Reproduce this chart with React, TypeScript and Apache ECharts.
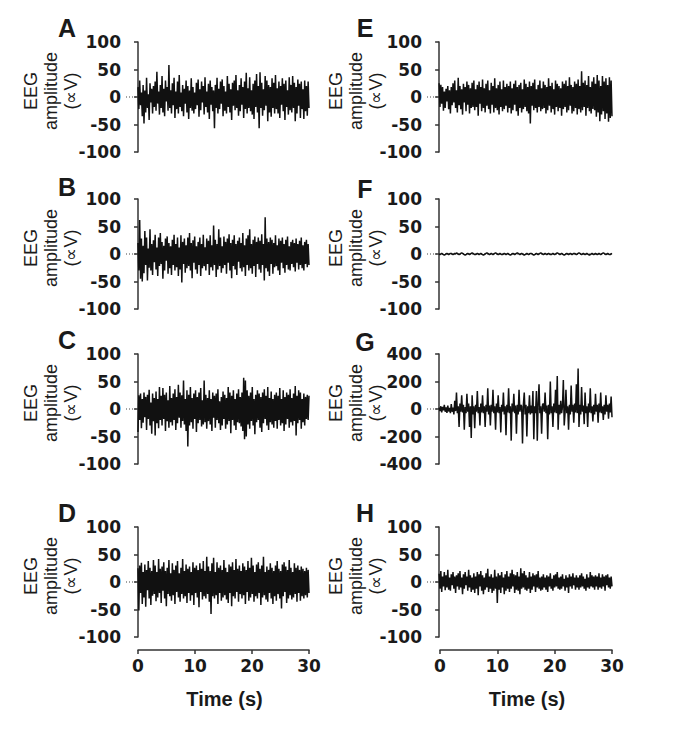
import React, { useEffect, useRef } from "react";
import * as echarts from "echarts";

const panelLetters = ["A", "B", "C", "D", "E", "F", "G", "H"];
const xTickValues = [0, 10, 20, 30];
const durationSec = 30;
const yLabelText = "EEG\namplitude\n(∝V)";
const xTitle = "Time (s)";

const traceA = [
  18,-22,30,-15,8,-35,22,-48,12,-28,35,-20,5,-42,25,-10,15,-30,20,-18,
  28,-25,46,-12,10,-32,22,-20,38,-28,15,-35,30,-8,18,-25,58,-20,12,-30,
  25,-15,35,-38,10,-22,28,-30,40,-18,8,-26,22,-35,15,-12,30,-28,20,-40,
  12,-20,34,-25,18,-30,8,-22,26,-15,32,-36,14,-24,28,-10,20,-32,36,-18,
  10,-28,24,-40,30,-14,18,-26,12,-57,22,-20,35,-30,15,-22,28,-12,32,-35,
  20,-25,10,-30,38,-18,24,-28,14,-42,26,-16,30,-24,40,-20,12,-34,22,-26,
  34,-14,18,-38,28,-22,44,-30,16,-20,36,-26,12,-32,24,-40,30,-18,42,-28,
  20,-57,45,-20,26,-34,14,-24,38,-16,30,-44,22,-28,18,-36,34,-20,26,-30,
  40,-22,16,-30,28,-38,20,-14,34,-26,24,-42,30,-18,12,-32,36,-24,22,-28,
  38,-20,26,-44,18,-30,32,-16,24,-38,28,-22,14,-40,30,-26,20,-34,28,-20
];

const traceB = [
  20,-30,62,-45,28,-50,15,-35,42,-20,30,-48,10,-25,45,-30,18,-38,25,-15,
  35,-28,12,-40,30,-22,38,-18,22,-45,15,-30,28,-12,32,-36,20,-26,14,-38,
  26,-20,35,-30,18,-24,30,-40,12,-28,34,-52,22,-18,28,-34,16,-26,30,-22,
  38,-30,20,-44,25,-16,32,-28,14,-36,22,-20,30,-40,18,-26,35,-22,12,-30,
  28,-18,24,-38,34,-24,16,-30,52,-20,26,-42,18,-28,45,-22,30,-34,14,-26,
  32,-20,22,-36,28,-16,36,-30,20,-44,26,-22,34,-28,18,-38,24,-14,30,-26,
  20,-32,38,-24,16,-40,28,-20,34,-30,45,-26,18,-36,26,-22,32,-42,22,-18,
  30,-28,24,-34,36,-20,18,-48,67,-26,28,-32,22,-40,30,-18,26,-36,20,-24,
  34,-22,16,-30,28,-38,24,-16,30,-26,18,-34,26,-20,32,-28,14,-30,22,-18,
  26,-24,20,-32,28,-16,18,-28,24,-20,30,-26,16,-30,22,-18,26,-24,18,-20
];

const traceC = [
  -42,25,-20,28,-35,18,-25,30,-15,22,-38,26,-18,35,-30,12,-45,28,-22,20,
  -48,32,-26,18,-35,40,-20,24,-30,38,-18,26,-40,30,-22,16,-34,42,-24,20,
  -30,28,-20,36,-38,22,-26,44,-16,30,-34,25,-22,52,-28,18,-40,34,-68,26,
  -30,40,-24,20,-36,28,-18,34,-42,22,-26,30,-20,38,-32,16,-28,52,-24,26,
  -36,20,-22,34,-28,18,-40,30,-16,24,-34,28,-20,36,-26,14,-38,22,-30,32,
  -18,26,-36,20,-28,40,-22,30,-44,24,-20,34,-30,18,-38,28,-24,36,-26,22,
  -32,30,-40,57,-55,52,-50,34,-28,24,-36,30,-22,40,-30,18,-46,26,-24,34,
  -20,28,-34,22,-42,30,-26,36,-18,24,-30,40,-38,20,-24,32,-28,18,-34,26,
  -22,30,-36,24,-20,38,-30,18,-26,34,-40,22,-28,30,-18,26,-34,36,-24,20,
  -30,28,-22,42,-48,24,-26,34,-20,30,-36,18,-24,28,-30,22,-18,26,-20,24
];

const traceD = [
  25,-52,30,-20,35,-40,18,-28,32,-45,22,-15,38,-30,26,-42,20,-25,40,-22,
  30,-35,18,-28,42,-20,24,-38,28,-16,36,-30,20,-44,26,-22,40,-26,16,-34,
  34,-24,22,-40,30,-18,38,-28,16,-36,26,-22,42,-30,20,-26,32,-38,24,-20,
  28,-34,18,-24,36,-42,26,-20,30,-28,22,-46,34,-18,24,-32,38,-26,20,-30,
  46,-22,28,-36,20,-58,34,-26,44,-30,18,-24,36,-40,26,-20,30,-34,22,-28,
  40,-24,26,-32,18,-38,32,-20,28,-44,36,-26,22,-30,42,-18,24,-36,30,-22,
  20,-30,34,-24,28,-40,22,-18,38,-34,26,-28,44,-22,30,-36,18,-26,32,-30,
  36,-20,24,-42,30,-28,46,-24,18,-32,28,-36,22,-20,34,-30,26,-40,20,-26,
  30,-34,38,-22,24,-30,20,-48,32,-26,36,-18,28,-38,22,-30,40,-24,26,-32,
  18,-28,34,-22,26,-36,30,-20,22,-34,28,-26,24,-30,20,-24,26,-28,22,-20
];

const traceE = [
  25,-18,22,-12,18,-25,10,-20,15,-8,20,-22,12,-30,18,-15,25,-10,30,-20,
  12,-28,35,-15,20,-22,14,-32,24,-10,18,-26,28,-14,22,-30,16,-20,26,-18,
  30,-24,14,-18,22,-34,28,-12,18,-26,32,-20,16,-28,24,-16,30,-22,12,-30,
  26,-14,20,-28,34,-20,16,-24,22,-32,28,-18,14,-26,30,-22,18,-16,24,-28,
  20,-20,28,-30,16,-24,24,-14,30,-26,18,-34,22,-20,26,-28,14,-22,32,-18,
  24,-26,18,-30,28,-48,20,-16,26,-24,32,-20,14,-28,22,-18,30,-26,16,-22,
  28,-20,22,-30,18,-24,34,-16,20,-28,26,-22,14,-32,30,-18,24,-26,20,-20,
  16,-34,28,-22,24,-18,30,-28,20,-24,36,-16,22,-30,18,-26,28,-20,24,-32,
  32,-22,20,-28,47,-24,26,-18,30,-34,22,-20,38,-26,18,-30,28,-22,36,-24,
  24,-36,40,-28,30,-44,20,-32,38,-26,28,-40,34,-30,22,-45,36,-38,30,-35
];

const traceF = [
  0,-1,0,1,0,-1,-2,-1,0,1,0,-1,0,1,1,0,-1,0,1,0,
  2,1,0,-1,0,1,2,1,0,-1,-2,-1,0,1,0,-1,0,1,2,1,
  0,-1,-1,0,1,0,-1,0,1,0,-1,-2,-1,0,1,2,1,0,-1,0,
  1,0,-1,0,1,2,1,0,-1,0,1,0,-1,-1,0,1,0,-1,0,1,
  0,-1,-2,-1,0,1,0,-1,0,1,2,1,0,-1,0,1,0,-1,-2,-1,
  0,1,0,-1,0,1,1,0,-1,-2,-1,0,1,0,-1,0,1,2,1,0,
  -1,0,1,0,-1,0,1,0,-1,-1,0,1,0,-1,0,1,2,1,0,-1,
  0,1,0,-1,-2,-1,0,1,0,-1,0,1,0,-1,0,1,1,0,-1,0,
  1,2,1,0,-1,0,1,0,-1,0,1,0,-1,-2,-1,0,1,0,-1,0,
  1,0,-1,0,1,0,-1,0,1,2,1,0,-1,0,1,0,-1,-1,0,1
];

const traceG = [
  10,-15,20,-25,15,-10,30,-20,12,-28,25,-18,8,-30,35,-20,10,-40,60,-15,
  120,-30,20,-130,40,-20,100,-25,30,-150,15,-30,110,-20,40,-130,20,-210,100,-40,
  20,-140,30,-20,130,-30,15,-120,40,-25,100,-30,20,-130,30,-20,150,-40,25,-120,
  30,-20,140,-30,20,-150,40,-25,100,-30,15,-170,30,-20,120,-40,20,-190,30,-25,
  150,-30,20,-230,40,-20,110,-30,25,-180,30,-40,140,-20,30,20,-250,30,120,-40,
  30,-200,20,-30,100,-40,25,-30,130,-220,20,-30,130,-230,40,180,-30,20,-180,30,
  40,-20,120,-30,25,-220,30,-40,200,-30,20,-130,40,-25,140,-30,240,-150,30,-40,
  60,-30,20,210,-120,-25,140,-30,20,-150,30,-40,170,-20,30,-100,40,-25,180,-30,
  295,-130,30,-40,160,-20,25,-110,120,-30,20,-130,40,-25,150,-30,20,-90,30,-40,
  110,-20,30,-100,40,-25,120,-30,20,-80,30,-40,100,-20,30,-70,40,-25,90,-60
];

const traceH = [
  15,-12,20,-18,10,-8,18,-15,12,-10,22,-14,8,-16,14,-6,18,-12,10,-20,
  12,-8,16,-14,20,-10,8,-22,14,-12,18,-6,10,-16,22,-10,12,-18,8,-14,
  16,-20,10,-12,18,-24,14,-8,20,-16,12,-22,8,-14,16,-10,24,-18,10,-12,
  14,-20,8,-16,22,-12,10,-38,16,-14,12,-20,18,-10,8,-22,14,-16,20,-12,
  10,-18,16,-12,22,-8,14,-20,12,-14,18,-16,10,-22,25,-12,16,-10,20,-14,
  12,-16,8,-12,18,-20,10,-14,16,-8,12,-18,14,-10,20,-12,8,-16,10,-14,
  14,-10,8,-14,12,-18,10,-8,16,-12,6,-16,12,-10,14,-8,18,-12,8,-14,
  10,-12,14,-8,6,-16,12,-10,8,-20,14,-8,10,-12,16,-6,8,-14,12,-10,
  8,-14,12,-10,16,-8,10,-12,6,-16,14,-10,8,-12,18,-8,12,-10,10,-14,
  12,-8,10,-14,16,-10,8,-12,14,-8,10,-16,12,-6,14,-10,8,-12,10,-8
];

const traces = [traceA, traceB, traceC, traceD, traceE, traceF, traceG, traceH];
const yLimits = [100, 100, 100, 100, 100, 100, 400, 100];

// layout (pixels)
const colAxisX = [126, 427];
const colRight = [309, 612];
const colZeroX = [138, 440];
const rowTops = [42, 199, 354, 527];
const panelH = 110;
const letterPos = [
  [67, 28], [67, 187], [67, 340], [67, 513],
  [365, 28], [365, 189], [365, 342], [365, 513]
];
const yLabelX = [51, 356];
const xMinPad = -2.1;

const tickFont = "DejaVu Sans";
const textFont = "Liberation Sans";
const ink = "#111111";
const axisColor = "#333333";

function toXY(values: number[]) {
  const n = values.length;
  return values.map((v, i) => [(i * durationSec) / (n - 1), v]);
}

export default function App() {
  const ref = useRef<HTMLDivElement>(null);
  useEffect(() => {
    const chart = echarts.init(ref.current!, null, { renderer: "svg" });
    const grid: any[] = [];
    const xAxis: any[] = [];
    const yAxis: any[] = [];
    const series: any[] = [];
    const graphic: any[] = [];

    traces.forEach((tr, p) => {
      const col = Math.floor(p / 4);
      const row = p % 4;
      const top = rowTops[row];
      grid.push({
        left: colAxisX[col],
        top,
        width: colRight[col] - colAxisX[col],
        height: panelH,
        containLabel: false
      });
      xAxis.push({
        type: "value",
        gridIndex: p,
        min: xMinPad,
        max: durationSec,
        show: false
      });
      const lim = yLimits[p];
      yAxis.push({
        type: "value",
        gridIndex: p,
        min: -lim,
        max: lim,
        interval: lim / 2,
        splitLine: { show: false },
        axisLine: { show: true, lineStyle: { color: axisColor, width: 1.5 } },
        axisTick: { show: true, length: 4, lineStyle: { color: axisColor, width: 1.5 } },
        axisLabel: {
          margin: 5,
          fontFamily: tickFont,
          fontWeight: "bold",
          fontSize: 17,
          color: "#1a1a1a"
        }
      });
      series.push({
        type: "line",
        xAxisIndex: p,
        yAxisIndex: p,
        data: [[xMinPad, 0], [durationSec, 0]],
        symbol: "none",
        silent: true,
        lineStyle: { color: "#444", width: 1, type: [1, 2] },
        z: 1
      });
      series.push({
        type: "line",
        xAxisIndex: p,
        yAxisIndex: p,
        data: toXY(tr),
        symbol: "none",
        silent: true,
        lineStyle: { color: ink, width: 1.5 },
        z: 2
      });
      graphic.push({
        type: "text",
        x: letterPos[p][0],
        y: letterPos[p][1],
        style: {
          text: panelLetters[p],
          font: `bold 25px "${textFont}"`,
          fill: "#1a1a1a",
          textAlign: "center",
          textVerticalAlign: "middle"
        }
      });
      graphic.push({
        type: "text",
        x: yLabelX[col],
        y: top + panelH / 2 - 6,
        rotation: Math.PI / 2,
        style: {
          text: yLabelText,
          font: `18px "${textFont}"`,
          lineHeight: 20,
          fill: "#1a1a1a",
          textAlign: "center",
          textVerticalAlign: "middle"
        }
      });
    });

    // bottom time axes
    [0, 1].forEach((col) => {
      const gi = grid.length;
      grid.push({
        left: colZeroX[col],
        top: 640,
        width: colRight[col] - colZeroX[col],
        height: 10
      });
      xAxis.push({
        type: "value",
        gridIndex: gi,
        min: 0,
        max: durationSec,
        interval: 10,
        position: "bottom",
        splitLine: { show: false },
        axisLine: { show: true, lineStyle: { color: axisColor, width: 1.5 } },
        axisTick: { show: true, length: 4, lineStyle: { color: axisColor, width: 1.5 } },
        axisLabel: {
          margin: 7,
          fontFamily: tickFont,
          fontWeight: "bold",
          fontSize: 17,
          color: "#1a1a1a",
          formatter: (v: number) => (xTickValues.includes(v) ? String(v) : "")
        }
      });
      yAxis.push({ type: "value", gridIndex: gi, min: 0, max: 1, show: false });
      graphic.push({
        type: "text",
        x: (colZeroX[col] + colRight[col]) / 2 + 1,
        y: 699,
        style: {
          text: xTitle,
          font: `bold 20px "${textFont}"`,
          fill: "#1a1a1a",
          textAlign: "center",
          textVerticalAlign: "middle"
        }
      });
    });

    chart.setOption({
      animation: false,
      backgroundColor: "#ffffff",
      grid,
      xAxis,
      yAxis,
      series,
      graphic
    });
    return () => chart.dispose();
  }, []);
  return (
    <div
      ref={ref}
      style={{ position: "absolute", left: 0, top: 0, width: 680, height: 732 }}
    />
  );
}
